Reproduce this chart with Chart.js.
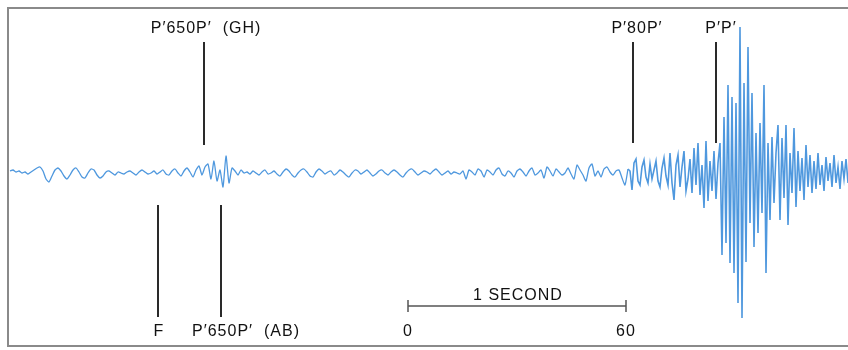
<!DOCTYPE html>
<html>
<head>
<meta charset="utf-8">
<script src="https://cdn.jsdelivr.net/npm/chart.js@4.4.1/dist/chart.umd.min.js"></script>
<style>
  html, body { margin: 0; padding: 0; background: #fff; }
  #wrap { width: 848px; height: 350px; }
</style>
</head>
<body>
<div id="wrap"><canvas id="seismo" width="848" height="350"></canvas></div>
<script>
// ── Data ─────────────────────────────────────────────────────────────────────
// trace amplitude (up = positive), quiet part sampled every 3 units from 10
const quietStart = 10;
const quietStep  = 3;
const quietTrace = [
     2,  3,  1,  2,  0,  1, -1,  1,  3,  5,
     6,  2, -6, -9, -3,  3,  5,  2, -3, -6,
    -2,  3,  5,  1, -4, -5,  0,  4,  3, -2,
    -5, -3,  1,  2,  0, -2,  1,  0, -1,  1,
     2,  0, -2,  1,  3,  1, -1,  0,  2, -1,
     1,  3, -1, -2,  2,  4,  0, -3,  2,  5,
     1, -4,  3,  7, -2,  6,  9, -6, 12, -8,
     3,-14, 17,-10,  5,  2, -2,  3,  0,  1,
    -1,  2,  0, -2,  1,  3, -1,  0,  2, -1,
    -3,  1,  4,  2, -2, -4,  0,  3,  4,  1,
    -3, -4,  1,  4,  2, -1,  1,  2, -2,  0,
     3,  1, -2, -4,  0,  3,  2, -1,  1,  3,
     0, -3, -1,  2,  3,  0, -2,  1,  3,  1,
    -2, -4,  0,  3,  4,  1, -2,  0,  2,  1,
    -1,  2,  4,  1, -2,  0,  2, -1,  1,  0,
    -1,  2, -6,  3,  1, -2,  4,  2, -4,  3,
     1, -2,  3,  5, -1, -3,  2,  0, -4,  2,
     4,  1, -3,  2,  5, -2,  0,  3, -5,  6,
     2, -3,  4,  1, -2,  0,  5, -1, -6,  8,
     3, -2, -8,  5,  9, -3,  2, -4,  4,  6,
     1, -2,  2,  3, -5,-12,  4
];

// active part (P'80P' onwards) sampled every 2 units from 630
const activeStart = 630;
const activeStep  = 2;
const activeTrace = [
     2,-17, 10, 14, -8,-12,  6, 13, -4,-10,
     9, -6,  3, 12, -8,-14,  5, 15, -3,-12,
    20,-10,-27,  8, 18,-14,  6, 22,-18, -6,
    14,-20, 25,-12, 30,-22,  8,-35, 32,-28,
    12,-18, 22,-26, 10, 30,-82, 56,-70, 88,
   -90, 76,-100, 70,-130,146,-145, 90,-89,126,
   -50, 80,-74, 40,-60, 50,-40, 88,-100, 30,
   -47, 36,-30, 20, 48,-47, 35,-25, 48,-52,
    20,-20, 45,-34, 22,-18, 15,-27, 28,-14,
    18,-20, 12,-16, 20,-12,  8,-18, 16, -8,
    10,-14, 18,-10,  6,-16, 12, -6, 14,-10
];

// phase markers: label, x, top and bottom of the tick
const markerLabels = ["P\u2032650P\u2032  (GH)", "P\u203280P\u2032", "P\u2032P\u2032", "F", "P\u2032650P\u2032  (AB)"];
const markerX      = [204, 633, 716, 158, 221];
const markerTop    = [131, 131, 131, -32, -32];
const markerBottom = [ 28,  30,  30,-144,-144];

// time scale bar
const scaleLabel = "1 SECOND";
const scaleTicks = ["0", "60"];
const scaleFrom  = 408;
const scaleTo    = 626;

// ── Build datasets ───────────────────────────────────────────────────────────
const quietPts  = quietTrace.map((v, i) => ({ x: quietStart + i * quietStep, y: v }));
const activePts = activeTrace.map((v, i) => ({ x: activeStart + i * activeStep, y: v }));
activePts.unshift(quietPts[quietPts.length - 1]);

const TRACE = '#4f98de';
const INK   = '#111';

const datasets = [
    { data: quietPts,  borderColor: TRACE, borderWidth: 1.3, tension: 0.2, pointRadius: 0 },
    { data: activePts, borderColor: TRACE, borderWidth: 1.6, tension: 0,   pointRadius: 0 }
];
markerX.forEach((x, i) => {
    datasets.push({
        data: [{ x, y: markerTop[i] }, { x, y: markerBottom[i] }],
        borderColor: '#2a2a2a', borderWidth: 2, pointRadius: 0
    });
});

// label placement (label centre x, side) – annotation config
const labelPlace = [
    { cx: 206, side: 'top' },
    { cx: 637, side: 'top' },
    { cx: 721, side: 'top' },
    { cx: 159, side: 'bottom' },
    { cx: 246, side: 'bottom' }
];

// ── Plugin: frame, labels, scale bar ─────────────────────────────────────────
const decorPlugin = {
    id: 'decor',
    afterDraw(chart) {
        const { ctx, scales: { x, y } } = chart;
        ctx.save();

        // frame (open on the right)
        ctx.strokeStyle = '#8a8a8a';
        ctx.lineWidth = 2;
        ctx.beginPath();
        ctx.moveTo(848, 8);
        ctx.lineTo(8, 8);
        ctx.lineTo(8, 346);
        ctx.lineTo(848, 346);
        ctx.stroke();

        ctx.fillStyle = INK;
        ctx.font = '16px "Liberation Sans", Arial, sans-serif';
        ctx.letterSpacing = '1px';
        ctx.textAlign = 'center';
        ctx.textBaseline = 'middle';

        markerLabels.forEach((t, i) => {
            const p = labelPlace[i];
            const py = p.side === 'top' ? y.getPixelForValue(markerTop[i]) - 13
                                        : y.getPixelForValue(markerBottom[i]) + 15;
            ctx.fillText(t, x.getPixelForValue(p.cx), py);
        });

        // scale bar
        const x0 = x.getPixelForValue(scaleFrom);
        const x1 = x.getPixelForValue(scaleTo);
        const yb = y.getPixelForValue(-133);
        ctx.strokeStyle = '#555';
        ctx.lineWidth = 1.5;
        ctx.beginPath();
        ctx.moveTo(x0, yb); ctx.lineTo(x1, yb);
        ctx.moveTo(x0, yb - 6); ctx.lineTo(x0, yb + 6);
        ctx.moveTo(x1, yb - 6); ctx.lineTo(x1, yb + 6);
        ctx.stroke();

        ctx.fillText(scaleLabel, (x0 + x1) / 2 + 1, yb - 10);
        ctx.fillText(scaleTicks[0], x0, yb + 26);
        ctx.fillText(scaleTicks[1], x1, yb + 26);

        ctx.restore();
    }
};

new Chart(document.getElementById('seismo').getContext('2d'), {
    type: 'line',
    data: { datasets },
    options: {
        responsive: false,
        animation: false,
        layout: { padding: 0 },
        plugins: { legend: { display: false }, tooltip: { enabled: false } },
        scales: {
            x: { type: 'linear', min: 0, max: 848, display: false },
            y: { type: 'linear', min: -177, max: 173, display: false }
        }
    },
    plugins: [decorPlugin]
});
</script>
</body>
</html>
